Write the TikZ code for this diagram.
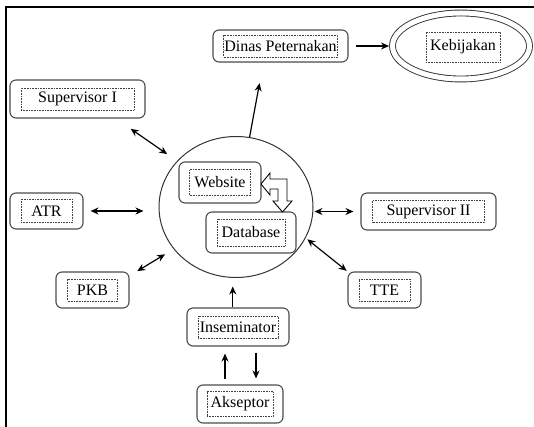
\documentclass[tikz,border=0pt]{standalone}
\usepackage{fontspec}
\setmainfont{Liberation Serif}
\usetikzlibrary{shapes.geometric,arrows.meta}

\begin{document}
\begin{tikzpicture}[x=1pt, y=-1pt,
    font=\fontsize{16}{19}\selectfont,
    box/.style={draw=black!70, line width=1.1, rounded corners=6, minimum height=37, inner sep=0},
    tag/.style={draw=black!75, line width=0.6, densely dotted, minimum height=22, inner sep=0},
    link/.style={line width=1.2, -{Stealth[length=8pt,width=7pt]}},
    dlink/.style={line width=1.2, {Stealth[length=8pt,width=7pt]}-{Stealth[length=8pt,width=7pt]}}]
      \useasboundingbox (0,0) rectangle (534,427);
      \draw[line width=1.6] (6,427) -- (6,7) -- (534,7);
      \node[ellipse, draw=black!80, line width=1, minimum width=154, minimum height=141, inner sep=0] (hub) at (236,207) {};
      \path (280.5,46) node[box, minimum width=135, minimum height=32] (dinas) {}
                       node[tag, minimum width=114] (dinas text) {Dinas Peternakan}
            (461,46) node[ellipse, draw=black!80, line width=0.9, double, double distance=5,
                          minimum width=137, minimum height=66, inner sep=0] (keb) {}
            (463,47) node[tag, minimum width=74, minimum height=30] (keb text) {Kebijakan}
            (77.5,99) node[box, minimum width=135, minimum height=38] (sup1) {}
                      node[tag, minimum width=113] (sup1 text) {Supervisor I}
            (46.5,211) node[box, minimum width=73, minimum height=36] (atr) {}
                       node[tag, minimum width=51, minimum height=23] (atr text) {ATR}
            (428.5,211.5) node[box, minimum width=135] (sup2) {}
                          node[tag, minimum width=112] (sup2 text) {Supervisor II}
            (92.5,290) node[box, minimum width=73, minimum height=36] (pkb) {}
                       node[tag, minimum width=50] (pkb text) {PKB}
            (384.5,290) node[box, minimum width=73, minimum height=36] (tte) {}
                        node[tag, minimum width=51] (tte text) {TTE}
            (238,327) node[box, minimum width=102, minimum height=38] (insem) {}
                      node[tag, minimum width=80] (insem text) {Inseminator}
            (240,404) node[box, minimum width=86, minimum height=38] (aks) {}
                      node[tag, minimum width=66, minimum height=25] (aks text) {Akseptor}
            (220,182.5) node[box, minimum width=82, minimum height=41] (web) {}
                        node[tag, minimum width=61, minimum height=26] (web text) {Website}
            (251,232.5) node[box, minimum width=90, minimum height=41] (db) {}
                        node[tag, minimum width=68, minimum height=27] (db text) {Database};
      \draw[line width=0.9, fill=white] (261,184) -- (270,173) -- (270,179) -- (287,179) -- (287,201)
            -- (292,201) -- (282.5,212) -- (273,201) -- (278,201) -- (278,189) -- (270,189) -- (270,195) -- cycle;
      \coordinate (up) at ([xshift=-15pt]aks.north);
      \coordinate (down) at ([xshift=16pt]aks.north);
      \path[dlink] (sup1.-27) edge[shorten <=18, shorten >=12] (hub.142)
                   (atr.east) edge[shorten <=7, shorten >=15] (atr.east -| hub.west)
                   (sup2.west -| hub.east) edge[shorten <=1, shorten >=7] (sup2.west)
                   (pkb.21) edge[shorten <=9, shorten >=10] (hub.214)
                   (hub.-24) edge[shorten <=2, shorten >=1] (tte.north west);
      \path[link] (hub.79) edge[shorten >=21] (dinas.224)
                  (insem.105) edge[shorten >=8.5] (insem.105 |- hub.south)
                  (up) edge[shorten <=5, shorten >=7] (up |- insem.south)
                  (down |- insem.south) edge[shorten <=6, shorten >=6] (down)
                  (dinas.east) edge[shorten <=7, shorten >=3] (keb.west);
\end{tikzpicture}
\end{document}
